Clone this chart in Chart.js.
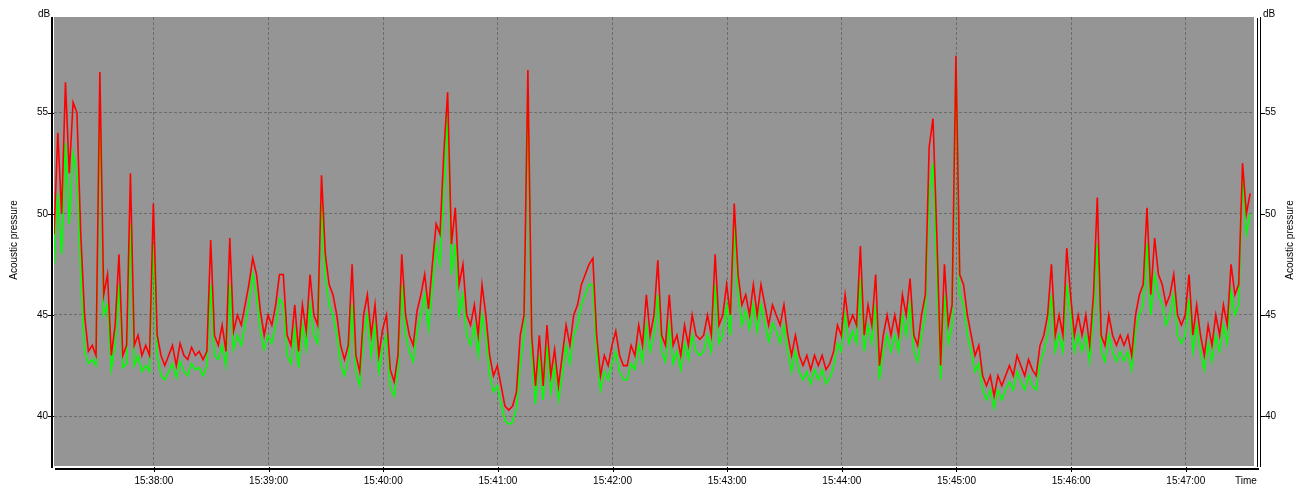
<!DOCTYPE html>
<html>
<head>
<meta charset="utf-8">
<script src="https://cdn.jsdelivr.net/npm/chart.js@4.4.1/dist/chart.umd.min.js"></script>
<style>
  html, body { margin: 0; padding: 0; background: #fff; }
  #wrap { width: 1303px; height: 489px; }
</style>
</head>
<body>
<div id="wrap"><canvas id="chart" width="1303" height="489"></canvas></div>
<script>
// samples every 2 s starting at 15:37:07.7
const STEP_S = 2;
const START_S = 15 * 3600 + 37 * 60 + 7.7;
const X_TICKS_S = [52.3, 112.3, 172.3, 232.3, 292.3, 352.3, 412.3, 472.3, 532.3, 592.3];
const Y_TICKS = [40, 45, 50, 55];

// upper trace (red)
const lmax = [
  49, 54, 50, 56.5, 52, 55.5, 55, 49, 45, 43.2,
  43.5, 43, 57, 46, 47, 43, 44.5, 48, 43, 43.5,
  52, 43.5, 44, 43, 43.5, 43, 50.5, 44, 43, 42.5,
  43, 43.5, 42.5, 43.6, 43, 42.8, 43.4, 43, 43.2, 42.8,
  43.2, 48.7, 44, 43.5, 44.5, 43.2, 48.8, 44.2, 45, 44.5,
  45.5, 46.5, 47.8, 47, 45.2, 44, 45, 44.5, 45.5, 47,
  47, 44, 43.5, 45.5, 43.2, 45.5, 44.2, 47, 45, 44.5,
  51.9, 48, 46.5, 46, 45, 43.5, 42.8, 43.5, 47.5, 43,
  42.2, 45, 46, 44, 45.5, 43, 44.3, 45, 42.3, 41.7,
  43, 48, 45, 44, 43.5, 45.2, 46, 47, 45.3, 47.5,
  49.5, 49, 53, 56, 48.5, 50.3, 46.5, 47.5, 45, 44.5,
  45.5, 44, 46.5, 45, 43, 42, 42.5, 41.5, 40.5, 40.3,
  40.5, 41.2, 44, 45, 57.1, 44, 41.5, 44, 41.5, 44.5,
  42, 43.3, 41.5, 43, 44.5, 43.5, 45, 45.5, 46.5, 47,
  47.5, 47.8, 44, 42, 43, 42.5, 43.5, 44.2, 43, 42.5,
  42.5, 43.5, 43, 44.5, 43.5, 46, 44, 45, 47.7, 44,
  43.5, 46, 43.5, 44, 43, 44.5, 43.5, 45, 44, 43.8,
  44, 45, 44, 48, 44.5, 45, 46.5, 45, 50.5, 47,
  45.5, 46, 45, 46.5, 45, 46.5, 45.5, 44.5, 45.5, 45,
  44.5, 45.5, 44, 43, 44, 43, 42.5, 43, 42.3, 43,
  42.5, 43, 42.3, 42.6, 43.2, 44.5, 44, 46, 44.5, 45,
  44.5, 48.4, 44, 45.5, 44.5, 47, 42.5, 44, 45, 44,
  45, 44, 46, 45, 46.8, 44, 43.5, 45, 46, 53.3,
  54.7, 49, 42.5, 47.5, 44.5, 45.5, 57.8, 47, 46.5, 45,
  44, 43, 43.5, 42, 41.5, 42, 41, 42, 41.5, 42,
  42.5, 42, 43, 42.5, 42, 42.8, 42.3, 42, 43.5, 44,
  45, 47.5, 44, 45, 44, 48.3, 46, 44, 45, 44,
  45, 43.5, 46, 50.8, 44, 43.5, 45, 44, 43.5, 44,
  43.5, 44, 43, 45, 46, 46.5, 50.3, 46, 48.8, 47,
  46.5, 45.5, 46, 47, 45, 44.5, 45, 47, 44, 45.5,
  44, 43, 44.5, 43.5, 45, 44, 45.5, 44.5, 47.5, 46,
  46.5, 52.5, 50, 51
];

// lower trace (green)
const leq = [
  47.5, 51, 48, 53.5, 49.5, 53, 52, 47, 43.2, 42.6,
  42.8, 42.5, 55.5, 45, 45.5, 42.3, 43.5, 46.5, 42.4, 42.6,
  49.5, 42.5, 43, 42.2, 42.5, 42.2, 48.5, 43, 42, 41.8,
  42.2, 42.6, 41.9, 42.7, 42.2, 42, 42.6, 42.3, 42.4, 42,
  42.5, 46.5, 43, 42.8, 43.5, 42.5, 46.5, 43.3, 44, 43.5,
  44.5, 45.5, 47, 46, 44.2, 43.3, 44, 43.6, 44.5, 45.8,
  45.5, 43, 42.6, 44.3, 42.4, 44.5, 43.3, 45.5, 44, 43.6,
  50.5, 46.8, 45.5, 45, 44, 42.6, 42, 42.7, 45.5, 42.2,
  41.5, 44, 45, 43, 44.5, 42.2, 43.4, 44, 41.4, 41,
  42.3, 46.5, 44, 43.2, 42.7, 44.2, 45, 46, 44.3, 46.3,
  48.5, 47.5, 51, 55, 47, 48.5, 45, 46, 44, 43.5,
  44.5, 43, 45, 44, 42, 41.2, 41.5, 40.6, 39.8, 39.6,
  39.7, 40.4, 42.5, 44, 56.3, 43, 40.6, 43, 40.8, 43.5,
  41.2, 42.5, 40.8, 42, 43.5, 42.6, 44, 44.5, 45.5, 46,
  46.5, 46.5, 43, 41.3, 42.2, 41.8, 42.6, 43.2, 42.2, 41.8,
  41.8, 42.6, 42.3, 43.5, 42.7, 44.5, 43.2, 44, 46, 43.2,
  42.7, 44.5, 42.6, 43.2, 42.3, 43.6, 42.8, 44, 43.2, 43,
  43.2, 44, 43.2, 46.5, 43.6, 44, 45.5, 44, 49.5, 46,
  44.5, 45.2, 44.3, 45.5, 44.2, 45.5, 44.6, 43.7, 44.6, 44.2,
  43.6, 44.5, 43.2, 42.2, 43.2, 42.2, 41.8, 42.2, 41.6, 42.3,
  41.8, 42.3, 41.6, 41.9, 42.4, 43.6, 43.2, 45, 43.6, 44.2,
  43.6, 46.8, 43.2, 44.5, 43.6, 45.5, 41.8, 43.2, 44, 43.2,
  44, 43.2, 45, 44, 45.5, 43.2, 42.7, 44, 45, 51,
  52.5, 47, 41.8, 46, 43.6, 44.5, 57.5, 46, 45.5, 44,
  43.2, 42.2, 42.6, 41.3, 40.8, 41.3, 40.4, 41.3, 40.8, 41.3,
  41.7, 41.3, 42.2, 41.7, 41.3, 42, 41.5, 41.3, 42.6, 43.2,
  44, 46, 43.2, 44, 43.2, 46.5, 45, 43.2, 44, 43.2,
  44, 42.7, 45, 48.5, 43.2, 42.7, 44, 43.2, 42.7, 43.2,
  42.7, 43.2, 42.3, 44.2, 45, 45.5, 48.5, 45, 47, 46,
  45.5, 44.5, 45, 46, 44, 43.6, 44, 45.8, 43.2, 44.5,
  43.2, 42.3, 43.6, 42.7, 44, 43.2, 44.5, 43.6, 46.2, 45,
  45.5, 52, 49, 50
];

const FONT = '"Liberation Sans", Arial, sans-serif';
const toXY = arr => arr.map((v, i) => ({ x: i * STEP_S, y: v }));

function fmtTime(v) {
  let s = Math.round(START_S + v);
  const h = Math.floor(s / 3600); s -= h * 3600;
  const m = Math.floor(s / 60); s -= m * 60;
  const p = n => String(n).padStart(2, "0");
  return `${h}:${p(m)}:${p(s)}`;
}

// gray plot background
const plotBg = {
  id: "plotBg",
  beforeDraw(chart) {
    const { ctx, chartArea: a } = chart;
    ctx.save();
    ctx.fillStyle = "#959595";
    ctx.fillRect(a.left, a.top, a.right - a.left, a.bottom - a.top);
    ctx.restore();
  }
};

// axis lines, tick marks and axis titles
const frame = {
  id: "frame",
  afterDraw(chart) {
    const { ctx, chartArea: a, scales } = chart;
    ctx.save();
    ctx.fillStyle = "#000";
    ctx.fillRect(a.left - 3, a.top, 2, a.bottom - a.top + 2);
    ctx.fillRect(a.right + 3, a.top + 1, 1, a.bottom - a.top);
    ctx.fillRect(a.right + 6, a.top, 1, a.bottom - a.top + 1);
    ctx.fillRect(a.left + 1, a.bottom + 2, a.right - a.left + 4, 2);
    Y_TICKS.forEach(v => {
      const y = Math.round(scales.y.getPixelForValue(v));
      ctx.fillRect(a.left - 6, y, 6, 1);
      ctx.fillRect(a.right + 6, y, 5, 1);
    });
    X_TICKS_S.forEach(v => {
      const x = Math.round(scales.x.getPixelForValue(v));
      ctx.fillRect(x, a.bottom + 1, 1, 5);
    });
    ctx.font = "10px " + FONT;
    ctx.textBaseline = "middle";
    ctx.textAlign = "left";
    ctx.fillText("dB", 38, 14);
    ctx.fillText("dB", 1263, 14);
    ctx.fillText("Time", 1235, 481);
    ctx.textAlign = "center";
    [14, 1290].forEach(cx => {
      ctx.save();
      ctx.translate(cx, 240);
      ctx.rotate(-Math.PI / 2);
      ctx.fillText("Acoustic pressure", 0, 0);
      ctx.restore();
    });
    ctx.restore();
  }
};

const gridStyle = { color: "#6c6c6c", drawTicks: false };
const dashedBorder = { display: false, dash: [3, 2] };

new Chart(document.getElementById("chart"), {
  type: "line",
  data: {
    datasets: [
      {
        label: "Lmax",
        data: toXY(lmax),
        borderColor: "#ff0000",
        borderWidth: 1.6,
        pointRadius: 0,
        tension: 0,
        fill: false,
      },
      {
        label: "Leq",
        data: toXY(leq),
        borderColor: "#00ff00",
        borderWidth: 1.6,
        pointRadius: 0,
        tension: 0,
        fill: false,
      }
    ]
  },
  options: {
    responsive: false,
    animation: false,
    devicePixelRatio: 1,
    layout: { padding: { top: 15, left: 0, right: 0, bottom: 0 } },
    plugins: { legend: { display: false }, tooltip: { enabled: false } },
    scales: {
      x: {
        type: "linear",
        min: 0, max: 628,
        afterFit: s => { s.height = 23; },
        afterBuildTicks: s => { s.ticks = X_TICKS_S.map(v => ({ value: v })); },
        grid: gridStyle,
        border: dashedBorder,
        ticks: {
          autoSkip: false, maxRotation: 0, padding: 9,
          color: "#000", font: { family: FONT, size: 10 },
          callback: v => fmtTime(v)
        }
      },
      y: {
        position: "left",
        min: 37.54, max: 59.72,
        afterFit: s => { s.width = 54; },
        afterBuildTicks: s => { s.ticks = Y_TICKS.map(v => ({ value: v })); },
        grid: gridStyle,
        border: dashedBorder,
        ticks: { padding: 6, color: "#000", font: { family: FONT, size: 10 } }
      },
      y2: {
        position: "right",
        min: 37.54, max: 59.72,
        afterFit: s => { s.width = 49; },
        afterBuildTicks: s => { s.ticks = Y_TICKS.map(v => ({ value: v })); },
        grid: { display: false, drawTicks: false },
        border: { display: false },
        ticks: { padding: 11, color: "#000", font: { family: FONT, size: 10 } }
      }
    }
  },
  plugins: [plotBg, frame]
});
</script>
</body>
</html>
